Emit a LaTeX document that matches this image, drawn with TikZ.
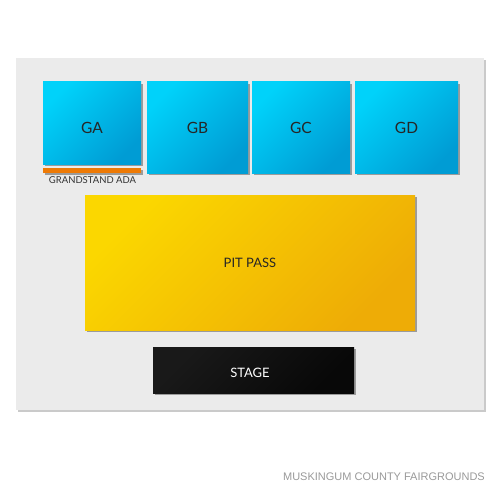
\documentclass[tikz,border=0pt]{standalone}
\usepackage{fontspec}
\setmainfont{Lato}
\newfontfamily\footfont{Liberation Sans}
\usetikzlibrary{shadows}
\definecolor{bgfill}{HTML}{EBEBEB}
\definecolor{bluelight}{HTML}{00D2FA}
\definecolor{bluedark}{HTML}{009CD4}
\definecolor{yellowlight}{HTML}{FBD700}
\definecolor{yellowdark}{HTML}{EEAC06}
\definecolor{adaorange}{HTML}{EE7A05}
\definecolor{footgray}{HTML}{999999}
\tikzset{
  sec/.style={draw=none, inner sep=0pt, outer sep=0pt, anchor=north west,
    drop shadow={shadow xshift=2pt, shadow yshift=-2pt, opacity=0.5, fill=black!70}},
  bluesec/.style={sec, top color=bluelight, bottom color=bluedark, shading angle=45},
  pitsec/.style={sec, top color=yellowlight, bottom color=yellowdark, shading angle=45},
  stagesec/.style={sec, top color=black!90, bottom color=black!97, shading angle=45},
  bluelbl/.style={inner sep=0pt, font=\fontsize{15.5}{18}\selectfont, text=black!85},
  biglbl/.style={inner sep=0pt, font=\fontsize{13}{16}\selectfont, text=black!85},
}
\begin{document}
\begin{tikzpicture}[x=1pt, y=-1pt]
\useasboundingbox (0,0) rectangle (500,500);
\node[anchor=north west, minimum width=468pt, minimum height=352pt, inner sep=0pt,
  fill=bgfill, drop shadow={shadow xshift=1.5pt, shadow yshift=-1.5pt, opacity=0.35, fill=black!60}] (bg) at (16,58) {};
\node[bluesec, minimum width=98pt, minimum height=82pt] (ga) at (43,82) {};
\node[sec, fill=adaorange, minimum width=98pt, minimum height=5pt] (ada) at (43,168) {};
\node[anchor=north, inner sep=0pt, font=\fontsize{9.5}{11}\selectfont, text=black!80] (adatext) at (92.5,176) {GRANDSTAND ADA};
\node[bluesec, minimum width=101pt, minimum height=91pt] (gb) at (147,82) {};
\node[bluesec, minimum width=98pt, minimum height=91pt] (gc) at (252,82) {};
\node[bluesec, minimum width=103pt, minimum height=91pt] (gd) at (355,82) {};
\node[bluelbl] (galbl) at (ga.center |- 0,128) {GA};
\node[bluelbl] (gblbl) at (gb.center |- 0,128) {GB};
\node[bluelbl] (gclbl) at (gc.center |- 0,128) {GC};
\node[bluelbl] (gdlbl) at (gd.center |- 0,128) {GD};
\node[pitsec, minimum width=330pt, minimum height=135pt] (pit) at (85,195) {};
\node[biglbl] (pitlbl) at (250,263) {PIT PASS};
\node[stagesec, minimum width=201pt, minimum height=46pt] (stage) at (153,347) {};
\node[biglbl, text=white] (stagelbl) at (250,373) {STAGE};
\node[anchor=east, inner sep=0pt, font=\footfont\fontsize{11}{13}\selectfont, text=footgray] (footer) at (485,477) {MUSKINGUM COUNTY FAIRGROUNDS};
\end{tikzpicture}
\end{document}
